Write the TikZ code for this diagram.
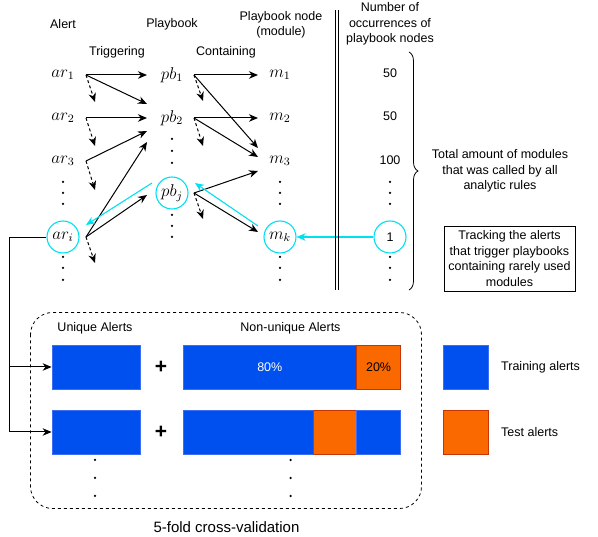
\documentclass[tikz,border=0pt]{standalone}
\usepackage{fontspec}
\setmainfont{Liberation Sans}
\usetikzlibrary{arrows.meta,decorations.pathreplacing}
\definecolor{dblue}{HTML}{0050EF}
\definecolor{dbluestroke}{HTML}{3D6DF2}
\definecolor{dorange}{HTML}{FA6800}
\definecolor{dorangestroke}{HTML}{C73500}
\definecolor{mycyan}{RGB}{0,225,240}
\newcommand{\mymath}[1]{\scalebox{1.42}{$#1$}}
\begin{document}
\begin{tikzpicture}[x=1pt,y=-1pt,
  lab/.style={font=\fontsize{12.5}{15.5}\selectfont, align=center, inner sep=0pt},
  mth/.style={font=\fontsize{12}{14}\selectfont, inner sep=0pt},
  ring/.style={draw=mycyan, line width=1.1pt, circle, minimum size=32pt, inner sep=0pt},
  arr/.style={-{Stealth[length=9pt,width=7.5pt,inset=2.8pt]}, line width=1pt},
  darr/.style={arr, dash pattern=on 3pt off 2.5pt},
  carr/.style={arr, draw=mycyan, color=mycyan, line width=1.1pt},
  vdot/.style={circle, fill=black, inner sep=0pt, minimum size=2.5pt},
  bbox/.style={draw=dbluestroke, fill=dblue, line width=0.8pt, inner sep=0pt, minimum height=44pt},
  obox/.style={draw=dorangestroke, fill=dorange, line width=0.8pt, inner sep=0pt, minimum height=44pt},
  pct/.style={font=\fontsize{12.5}{14}\selectfont},
  plus/.style={font=\fontsize{21}{22}\selectfont\bfseries, inner sep=0pt}
]
\useasboundingbox (0,0) rectangle (598,537);

% headers
\node[lab] (hAlert) at (63,24) {Alert};
\node[lab] (hPb) at (172,24) {Playbook};
\node[lab] (hMod) at (281,25) {Playbook node\\(module)};
\node[lab] (hTrig) at (117,52) {Triggering};
\node[lab] (hCont) at (226,52) {Containing};
\node[lab] (hNum) at (390,24) {Number of\\occurrences of\\playbook nodes};

% math nodes
\node[mth] (ar1) at (63,75) {\mymath{ar_1}};
\node[mth] (ar2) at (63,118) {\mymath{ar_2}};
\node[mth] (ar3) at (63,161) {\mymath{ar_3}};
\node[mth,ring] (ari) at (63,237) {\mymath{ar_i}};
\node[mth] (pb1) at (172,75) {\mymath{pb_1}};
\node[mth] (pb2) at (172,118) {\mymath{pb_2}};
\node[mth,ring] (pbj) at (172,193) {\mymath{pb_j}};
\node[mth] (m1) at (280,75) {\mymath{m_1}};
\node[mth] (m2) at (280,118) {\mymath{m_2}};
\node[mth] (m3) at (280,161) {\mymath{m_3}};
\node[mth,ring] (mk) at (280,237) {\mymath{m_k}};

\node[lab] (n1) at (390,73) {50};
\node[lab] (n2) at (390,116) {50};
\node[lab] (n3) at (390,160) {100};
\node[lab,ring] (n4) at (390,237) {1};

% vertical dots
\foreach \x/\y in {63/182,63/193,63/204, 63/257,63/268,63/280,
                   172/139,172/151,172/163, 172/215,172/226,172/237,
                   280/182,280/193,280/204, 280/257,280/268,280/280,
                   390/182,390/193,390/204, 390/257,390/268,390/280}
  \node[vdot] at (\x,\y) {};

% connection points
\coordinate (a1o) at (86,75);
\coordinate (a2o) at (86,118);
\coordinate (a3o) at (86,161);
\coordinate (aio) at (86,237);
\coordinate (p1o) at (194,75);
\coordinate (p2o) at (194,118);
\coordinate (pjo) at (194,193);

% alert -> playbook
\draw[arr] (a1o) -- (147,75);
\draw[arr] (a1o) -- (147,104);
\draw[darr] (a1o) -- (95,102);
\draw[arr] (a2o) -- (147,118);
\draw[darr] (a2o) -- (95,146);
\draw[arr] (a3o) -- (147,131);
\draw[darr] (a3o) -- (95,190);
\draw[arr] (aio) -- (147,142);
\draw[arr] (aio) -- (147,195);
\draw[darr] (aio) -- (95,263);
\draw[carr] (152,183) -- (86,225);

% playbook -> module
\draw[arr] (p1o) -- (258,75);
\draw[arr] (p1o) -- (258,148);
\draw[darr] (p1o) -- (203,101);
\draw[arr] (p2o) -- (258,118);
\draw[arr] (p2o) -- (258,157);
\draw[darr] (p2o) -- (203,146);
\draw[arr] (pjo) -- (258,171);
\draw[arr] (pjo) -- (258,232);
\draw[darr] (pjo) -- (203,219);
\draw[carr] (258,226) -- (195,183);
\draw[carr] (n4.west) -- (mk.east);

% double vertical line
\draw[line width=0.8pt] (335,10) -- (335,290);
\draw[line width=0.8pt] (338.5,10) -- (338.5,290);

% brace
\draw[line width=0.8pt, decorate, decoration={brace, amplitude=9pt}] (409,52) -- (409,290);
\node[lab] (total) at (500,171) {Total amount of modules\\that was called by all\\analytic rules};

\node[lab, draw, line width=0.8pt, minimum width=131pt, minimum height=65pt, inner sep=0pt] (track) at (509.5,258.5) {Tracking the alerts\\that trigger playbooks\\containing rarely used\\modules};

% bottom
\draw[line width=0.8pt, rounded corners=22pt, dash pattern=on 3pt off 3pt] (30.5,312.5) rectangle (421.5,508.5);
\node[lab] (hUni) at (95,328) {Unique Alerts};
\node[lab] (hNon) at (290.5,328) {Non-unique Alerts};

\node[bbox, minimum width=88pt] (u1) at (96,367) {};
\node[bbox, minimum width=173.6pt, text=white, pct] (nu1a) at (269.8,367) {80\%};
\node[obox, minimum width=44pt, pct] (nu1b) at (378.6,367) {20\%};
\node[plus] (plus1) at (161,367) {+};

\node[bbox, minimum width=88pt] (u2) at (96,432) {};
\node[bbox, minimum width=130.5pt] (nu2a) at (248.25,432) {};
\node[obox, minimum width=43.1pt] (nu2b) at (335.05,432) {};
\node[bbox, minimum width=44pt] (nu2c) at (378.6,432) {};
\node[plus] (plus2) at (161,432) {+};

\node[bbox, minimum width=44.5pt] (leg1) at (465.75,367) {};
\node[lab, anchor=west] (legt1) at (501,367) {Training alerts};
\node[obox, minimum width=44.5pt] (leg2) at (465.75,432) {};
\node[lab, anchor=west] (legt2) at (501,432) {Test alerts};

\foreach \x in {95,290.5}
  \foreach \y in {460,478,496}
    \node[vdot] at (\x,\y) {};

\node[lab, font=\fontsize{15}{18}\selectfont] (cv) at (226.5,527) {5-fold cross-validation};

% connector from ar_i
\coordinate (c1) at (9,237);
\coordinate (c2) at (9,367);
\coordinate (c3) at (9,432);
\draw[line width=0.9pt] (ari.west) -- (c1) -- (c3);
\draw[arr] (c2) -- (u1.west);
\draw[arr] (c3) -- (u2.west);
\end{tikzpicture}
\end{document}
